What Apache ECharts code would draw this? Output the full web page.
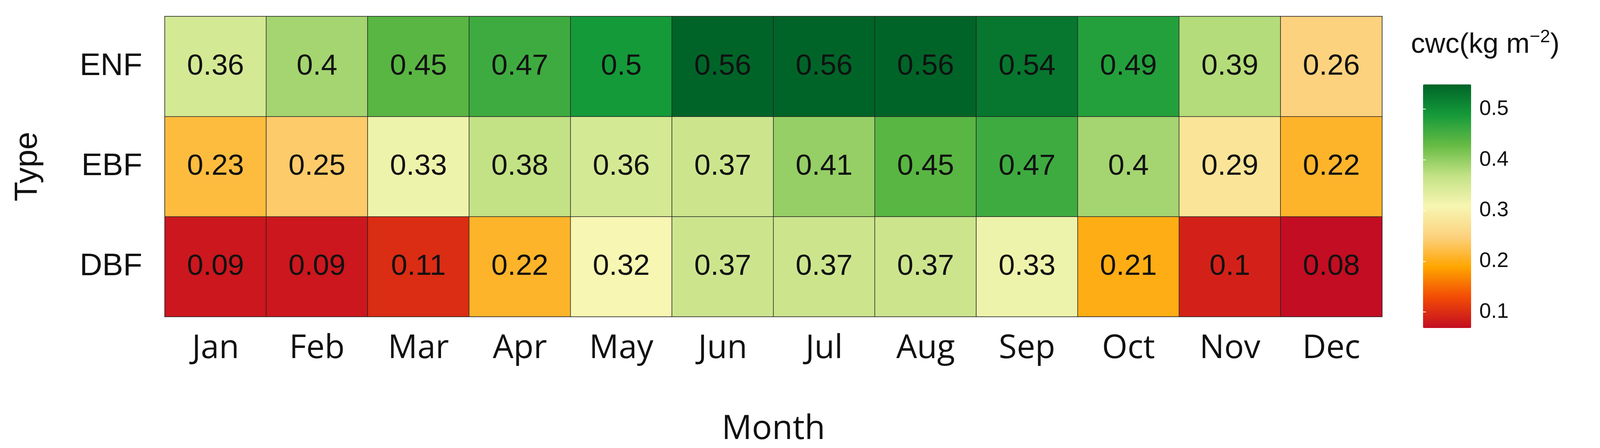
<!DOCTYPE html>
<html><head><meta charset="utf-8">
<script src="https://cdn.jsdelivr.net/npm/echarts@6/dist/echarts.min.js"></script>
<style>html,body{margin:0;background:#fff}#c{width:4141px;height:1146px}</style>
</head><body><div id="c"></div>
<script>
const months = ['Jan','Feb','Mar','Apr','May','Jun','Jul','Aug','Sep','Oct','Nov','Dec'];
const types = ['DBF','EBF','ENF'];
const ENF = [0.36,0.4,0.45,0.47,0.5,0.56,0.56,0.56,0.54,0.49,0.39,0.26];
const EBF = [0.23,0.25,0.33,0.38,0.36,0.37,0.41,0.45,0.47,0.4,0.29,0.22];
const DBF = [0.09,0.09,0.11,0.22,0.32,0.37,0.37,0.37,0.33,0.21,0.1,0.08];
const legendTicks = [0.1,0.2,0.3,0.4,0.5];
const rows = {DBF, EBF, ENF};
const data = [];
types.forEach((t, yi) => rows[t].forEach((v, xi) => data.push([xi, yi, v])));
const chart = echarts.init(document.getElementById('c'));
const tickAxisBase = {type:'value', gridIndex:1, min:0.08, max:0.56, z:10,
  axisLine:{show:false}, splitLine:{show:false},
  axisTick:{show:true, inside:true, length:22, customValues:legendTicks, lineStyle:{color:'#fff', width:2}}};
chart.setOption({
  animation:false,
  grid:[{left:422, top:42, width:3116, height:785, show:true, borderColor:'#e6e6e6', borderWidth:4},
        {left:3628, top:201, width:123, height:623}],
  xAxis:[{type:'category', data:months, gridIndex:0, axisLine:{show:false}, axisTick:{show:false},
          axisLabel:{fontFamily:'Open Sans', fontSize:84, color:'#111', margin:40},
          name:'Month', nameLocation:'middle', nameGap:245,
          nameTextStyle:{fontFamily:'Open Sans', fontSize:86, color:'#111'}},
         {type:'value', gridIndex:1, show:false}],
  yAxis:[{type:'category', data:types, gridIndex:0, axisLine:{show:false}, axisTick:{show:false},
          axisLabel:{fontFamily:'Liberation Sans', fontSize:80, color:'#111', margin:58},
          name:'Type', nameLocation:'middle', nameGap:310, nameRotate:90,
          nameTextStyle:{fontFamily:'Liberation Sans', fontSize:82, color:'#111'}},
         Object.assign({}, tickAxisBase, {position:'right',
          axisLabel:{show:true, inside:false, margin:36, customValues:legendTicks, fontFamily:'Liberation Sans', fontSize:54, color:'#111', formatter:v=>String(v)}}),
         Object.assign({}, tickAxisBase, {position:'left', axisLabel:{show:false}})],
  visualMap:{type:'continuous', min:0.08, max:0.56, seriesIndex:0, calculable:false, showLabel:false,
    text:['',''], left:3628, top:201, itemWidth:123, itemHeight:623, z:1,
    inRange:{color:['#C30D22','#F24A06','#FFA500','#FCD27E','#F7F6B2','#C3E285','#66BB45','#159A3A','#006428']}},
  graphic:[{type:'text', left:3612, top:72, style:{
    rich:{a:{fontFamily:'Liberation Sans', fontSize:72, fill:'#111'}, s:{fontFamily:'Liberation Sans', fontSize:46, fill:'#111', verticalAlign:'top', padding:[0,0,40,0]}},
    text:'{a|cwc(kg m}{s|−2}{a|)}'}}],
  series:[{type:'heatmap', data:data, xAxisIndex:0, yAxisIndex:0,
    itemStyle:{borderColor:'#222', borderWidth:1.5},
    label:{show:true, fontFamily:'Liberation Sans', fontSize:75, color:'#111', formatter:p=>String(p.value[2])}}]
});
</script></body></html>
